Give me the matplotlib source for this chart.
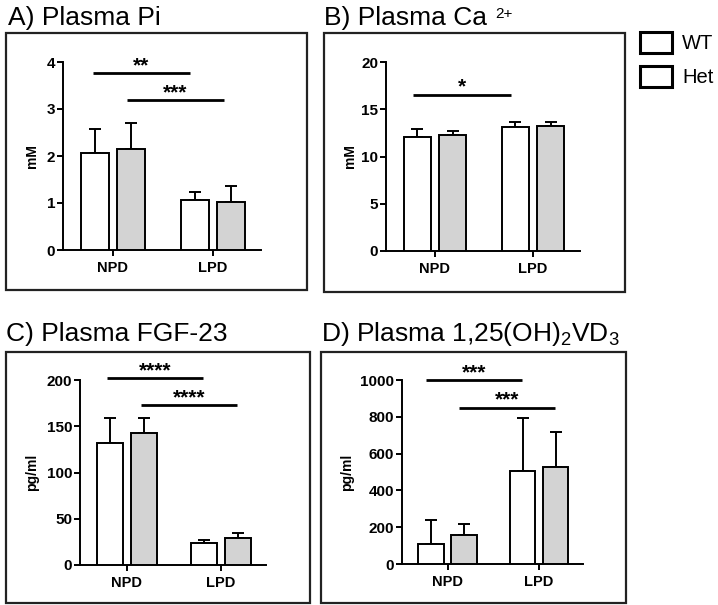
import matplotlib
matplotlib.use('Agg')
import matplotlib.pyplot as plt
from matplotlib.patches import Rectangle, Patch
import numpy as np

plt.rcParams['font.family'] = ['Liberation Sans', 'DejaVu Sans']
plt.rcParams['mathtext.fontset'] = 'custom'
plt.rcParams['mathtext.rm'] = 'Liberation Sans'

# dados
grupos = ['NPD', 'LPD']
series = ['WT', 'Het']

pi_wt = [2.07, 1.06]
pi_wt_sd = [0.50, 0.18]
pi_het = [2.15, 1.03]
pi_het_sd = [0.56, 0.34]

ca_wt = [12.05, 13.1]
ca_wt_sd = [0.9, 0.6]
ca_het = [12.3, 13.2]
ca_het_sd = [0.4, 0.4]

fgf_wt = [131.5, 24]
fgf_wt_sd = [27.5, 3]
fgf_het = [143, 29.5]
fgf_het_sd = [16, 5.5]

vd_wt = [110, 508]
vd_wt_sd = [130, 287]
vd_het = [155, 526]
vd_het_sd = [64, 190]

# barras de significancia: (inicio, fim, altura, texto)
sig_pi = [(-0.2, 0.77, 3.77, '**'), (0.14, 1.11, 3.19, '***')]
sig_ca = [(-0.22, 0.78, 16.55, '*')]
sig_fgf = [(-0.21, 0.81, 202, '****'), (0.15, 1.17, 173, '****')]
sig_vd = [(-0.24, 0.81, 1000, '***'), (0.12, 1.17, 850, '***')]

W, H = 718, 605
fig = plt.figure(figsize=(W / 100, H / 100), dpi=100)


def eixo(x0, x1, ytop, ybot):
    return fig.add_axes([x0 / W, 1 - ybot / H, (x1 - x0) / W, (ybot - ytop) / H])


def painel(ax, wt, wt_sd, het, het_sd, ymax, yticks, ylabel, sigs, lab_dx):
    x = np.arange(len(grupos))
    larg = 0.28
    off = 0.18
    ax.bar(x - off, wt, larg, color='white', edgecolor='black', linewidth=1.4, zorder=3)
    ax.bar(x + off, het, larg, color='#d3d3d3', edgecolor='black', linewidth=1.4, zorder=3)
    ax.errorbar(x - off, wt, yerr=[np.zeros(len(wt)), wt_sd], fmt='none',
                ecolor='black', elinewidth=1.4, capsize=4, capthick=1.4, zorder=2)
    ax.errorbar(x + off, het, yerr=[np.zeros(len(het)), het_sd], fmt='none',
                ecolor='black', elinewidth=1.4, capsize=4, capthick=1.4, zorder=2)
    ax.set_xlim(-0.5, 1.48)
    ax.set_ylim(0, ymax)
    ax.set_yticks(yticks)
    ax.set_xticks(x)
    ax.set_xticklabels(grupos, fontweight='bold', fontsize=10.5)
    for t in ax.get_yticklabels():
        t.set_fontweight('bold')
        t.set_fontsize(11)
    ax.spines['top'].set_visible(False)
    ax.spines['right'].set_visible(False)
    ax.spines['left'].set_linewidth(1.4)
    ax.spines['bottom'].set_linewidth(1.4)
    ax.tick_params(width=1.4, length=4, pad=1.5)
    ax.tick_params(axis='x', pad=4)
    ax.set_ylabel(ylabel, fontweight='bold', fontsize=10)
    ax.yaxis.set_label_coords(lab_dx, 0.5)
    for a, b, h, s in sigs:
        ax.plot([a, b], [h, h], color='black', linewidth=2, clip_on=False, solid_capstyle='butt')
        ax.annotate(s, xy=((a + b) / 2, h), xytext=(0, -1.5), textcoords='offset points',
                    ha='center', va='bottom', fontsize=15, fontweight='bold',
                    annotation_clip=False)
    ax.patch.set_alpha(0)


axA = eixo(63, 261, 62, 250)
painel(axA, pi_wt, pi_wt_sd, pi_het, pi_het_sd, 4, [0, 1, 2, 3, 4], 'mM', sig_pi, -24 / 198)

axB = eixo(386, 580, 62, 251)
painel(axB, ca_wt, ca_wt_sd, ca_het, ca_het_sd, 20, [0, 5, 10, 15, 20], 'mM', sig_ca, -29 / 194)

axC = eixo(80, 266, 380, 565)
painel(axC, fgf_wt, fgf_wt_sd, fgf_het, fgf_het_sd, 200, [0, 50, 100, 150, 200], 'pg/ml', sig_fgf, -41 / 186)

axD = eixo(402, 583, 380, 564)
painel(axD, vd_wt, vd_wt_sd, vd_het, vd_het_sd, 1000, [0, 200, 400, 600, 800, 1000], 'pg/ml', sig_vd, -48 / 181)

# molduras
for x0, y0, x1, y1 in [(6, 33, 307, 290), (324, 33, 625, 292), (6, 352, 310, 603), (321, 352, 626, 603)]:
    fig.add_artist(Rectangle((x0 / W, 1 - y1 / H), (x1 - x0) / W, (y1 - y0) / H,
                             transform=fig.transFigure, fill=False, edgecolor='#222222', linewidth=1.6))

# titulos
fig.text(8 / W, 1 - 25 / H, 'A) Plasma Pi', fontsize=19, va='baseline')
fig.text(324 / W, 1 - 25 / H, 'B) Plasma Ca', fontsize=19, va='baseline')
fig.text(495 / W, 1 - 18 / H, '2+', fontsize=11, va='baseline')
fig.text(6 / W, 1 - 341 / H, 'C) Plasma FGF-23', fontsize=19, va='baseline')
fig.text(321 / W, 1 - 341 / H, r'D) Plasma 1,25(OH)$_{\mathregular{2}}$VD$_{\mathregular{3}}$', fontsize=19, va='baseline')

# legenda
handles = [Patch(facecolor='white', edgecolor='black', linewidth=2.2) for s in series]
fig.legend(handles, series, loc='upper left', bbox_to_anchor=(640 / W, 1 - 32 / H),
           frameon=False, fontsize=14.5, handlelength=1.6, handleheight=1.25,
           labelspacing=0.6, handletextpad=0.5, borderpad=0, borderaxespad=0)

fig.savefig('out.png', dpi=100)
